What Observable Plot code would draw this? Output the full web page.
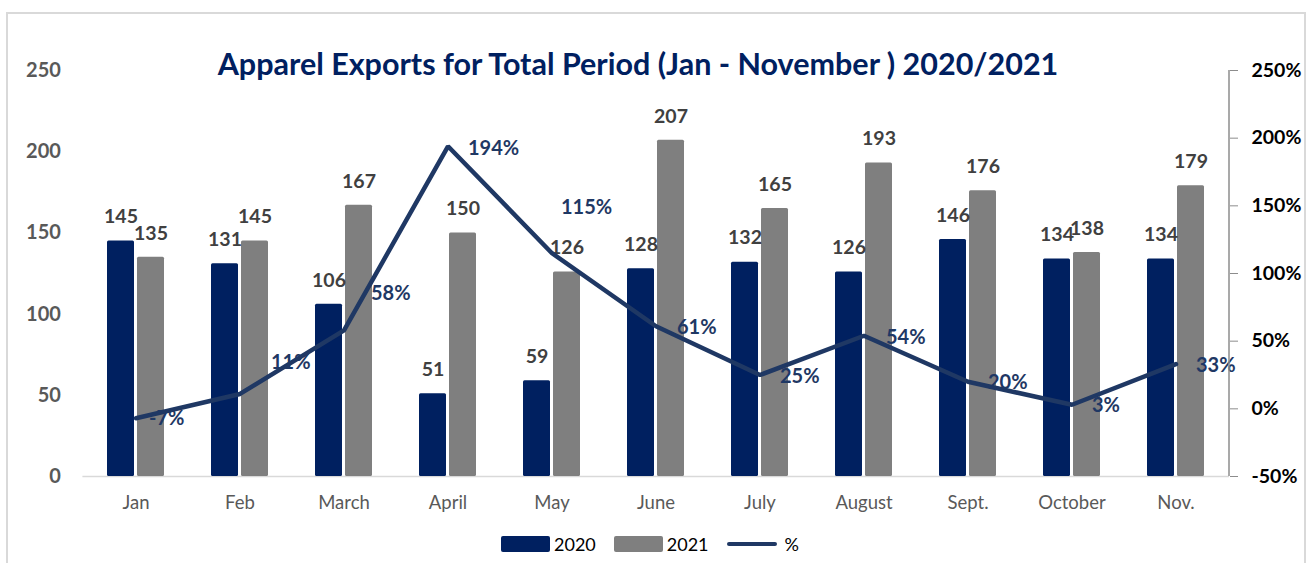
<!DOCTYPE html>
<html>
<head>
<meta charset="utf-8">
<script src="https://cdn.jsdelivr.net/npm/d3@7"></script>
<script src="https://cdn.jsdelivr.net/npm/@observablehq/plot@0.6"></script>
<style>
  html, body { margin: 0; padding: 0; background: #fff; }
  body { width: 1314px; height: 563px; position: relative; overflow: hidden; font-family: Lato, "Open Sans", sans-serif; }
  #frame { position: absolute; left: 6px; top: 12px; width: 1300px; height: 600px; border: 2px solid #d9d9d9; box-sizing: border-box; }
  #chart { position: absolute; left: 0; top: 0; }
  #title { position: absolute; left: 0; width: 1276px; top: 43px; text-align: center; font-weight: bold; font-size: 30.5px; color: #002060; line-height: 40px; }
  #legend { position: absolute; left: 0; width: 1300px; top: 533px; display: flex; justify-content: center; align-items: center; font-size: 18px; color: #000; }
  .item { display: flex; align-items: center; margin: 0 9px; }
  .sw { width: 49px; height: 16px; border-radius: 2px; margin-right: 4px; }
  .ln { width: 50px; height: 4px; border-radius: 2px; margin-right: 8px; background: #1f3864; }
</style>
</head>
<body>
<div id="frame"></div>
<div id="chart"></div>
<div id="title">Apparel Exports for Total Period (Jan - November ) 2020/2021</div>
<div id="legend">
  <div class="item"><div class="sw" style="background:#002060"></div><span>2020</span></div>
  <div class="item"><div class="sw" style="background:#7f7f7f"></div><span>2021</span></div>
  <div class="item"><div class="ln"></div><span>%</span></div>
</div>
<script>
const months = ["Jan","Feb","March","April","May","June","July","August","Sept.","October","Nov."];
const exports2020 = [145,131,106,51,59,128,132,126,146,134,134];
const exports2021 = [135,145,167,150,126,207,165,193,176,138,179];
const pctChange = [-7,11,58,194,115,61,25,54,20,3,33];
const leftTicks = [0,50,100,150,200,250];
const rightTicks = [-50,0,50,100,150,200,250];
// label nudges (pixels) for the % labels, as placed in the original chart
const pctLabelDx = [13,31,27,20,9,21,20,22,20,20,20];
const pctLabelDy = [0,-31,-37,2,-46,1,2,2,1,1,1];

const rows = months.map((m, i) => ({month: m, v2020: exports2020[i], v2021: exports2021[i], pct: pctChange[i]}));
// map the right (percent) axis onto the left value scale: -50%..250% -> 0..250
const pctToY = p => (p + 50) * 250 / 300;
const yToPct = v => Math.round(v * 300 / 250 - 50);

const pctLabels = rows.map((r, i) =>
  Plot.text([r], {x: "month", y: d => pctToY(d.pct), text: d => d.pct + "%", textAnchor: "start",
    dx: pctLabelDx[i], dy: pctLabelDy[i], fill: "#1f3864", fontWeight: "bold", fontSize: 20})
);

const chart = Plot.plot({
  width: 1314,
  height: 563,
  marginTop: 70,
  marginBottom: 87,
  marginLeft: 82.4,
  marginRight: 85,
  style: {fontFamily: "Lato, 'Open Sans', sans-serif", background: "transparent", overflow: "visible"},
  x: {domain: months, paddingInner: 0.453, paddingOuter: 0.2265, label: null},
  y: {domain: [0, 250], label: null},
  marks: [
    Plot.ruleY([0], {stroke: "#d9d9d9", strokeWidth: 1.5}),
    Plot.barY(rows, {x: "month", y: "v2020", fill: "#002060", insetRight: 30, rx: 1.5}),
    Plot.barY(rows, {x: "month", y: "v2021", fill: "#7f7f7f", insetLeft: 30, rx: 1.5}),
    Plot.text(rows, {x: "month", y: "v2020", text: d => String(d.v2020), dx: -15, dy: -24, fill: "#404040", fontWeight: "bold", fontSize: 19.5}),
    Plot.text(rows, {x: "month", y: "v2021", text: d => String(d.v2021), dx: 15, dy: -24, fill: "#404040", fontWeight: "bold", fontSize: 19.5}),
    Plot.line(rows, {x: "month", y: d => pctToY(d.pct), stroke: "#1f3864", strokeWidth: 4.5, strokeLinejoin: "miter"}),
    ...pctLabels,
    Plot.axisX({tickSize: 0, tickPadding: 19, fontSize: 18.5, fill: "#595959", label: null}),
    Plot.axisY({anchor: "left", ticks: leftTicks, tickSize: 0, tickPadding: 22, fontSize: 20, fontWeight: "bold", fill: "#595959", label: null}),
    Plot.axisY({anchor: "right", ticks: rightTicks.map(pctToY), tickFormat: v => yToPct(v) + "%", tickSize: 8, tickPadding: 14, fontSize: 19.5, fontWeight: "bold", fill: "#000", stroke: "#8c8c8c", label: null})
  ]
});

// vertical line of the right (percent) axis, taken from the chart's own scales
const xs = chart.scale("x"), ys = chart.scale("y");
d3.select(chart).append("line")
  .attr("x1", xs.range[1]).attr("x2", xs.range[1])
  .attr("y1", ys.range[0]).attr("y2", ys.range[1])
  .attr("stroke", "#8c8c8c").attr("stroke-width", 1.5);

document.getElementById("chart").appendChild(chart);
</script>
</body>
</html>
